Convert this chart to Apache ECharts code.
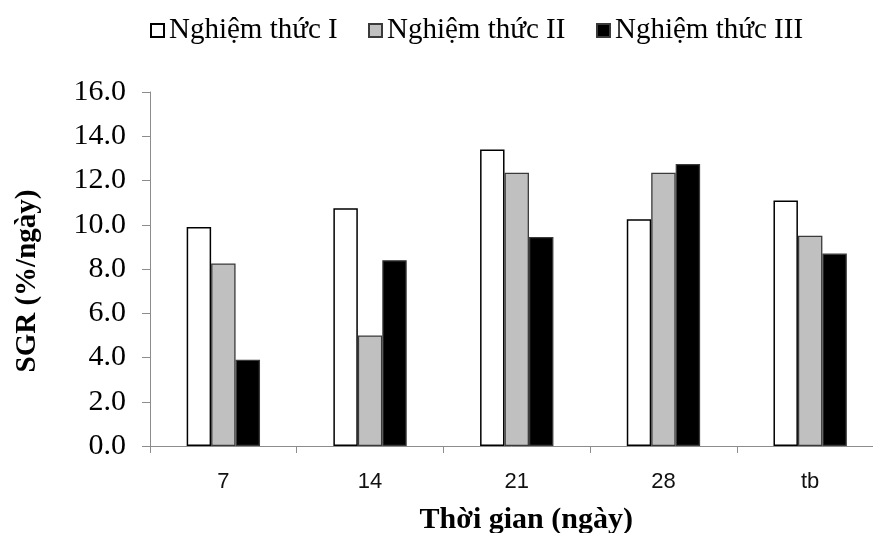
<!DOCTYPE html>
<html>
<head>
<meta charset="utf-8">
<script src="https://cdn.jsdelivr.net/npm/echarts@6/dist/echarts.min.js"></script>
<style>
  html, body { margin: 0; padding: 0; background: #fff; }
  #chart { width: 873px; height: 533px; }
</style>
</head>
<body>
<div id="chart"></div>
<script>
// Sampling days (tb = average over the trial)
const categories = ['7', '14', '21', '28', 'tb'];

// Specific growth rate, %/day, per treatment
const treatment1 = [9.9, 10.75, 13.4, 10.25, 11.1];
const treatment2 = [8.25, 5.0, 12.35, 12.35, 9.5];
const treatment3 = [3.9, 8.4, 9.45, 12.75, 8.7];

const seriesNames = ['Nghiệm thức I', 'Nghiệm thức II', 'Nghiệm thức III'];

const SERIF = '"Liberation Serif", "Times New Roman", serif';
const SANS = '"Liberation Sans", Arial, sans-serif';

const chart = echarts.init(document.getElementById('chart'), null, { renderer: 'canvas' });

function legendAt(name, left) {
  return {
    data: [name],
    left: left,
    top: 16,
    padding: 0,
    itemWidth: 13,
    itemHeight: 13,
    icon: 'rect',
    selectedMode: false,
    textStyle: { fontFamily: SERIF, fontSize: 29, color: '#000' }
  };
}

chart.setOption({
  animation: false,
  backgroundColor: '#fff',
  legend: [
    legendAt(seriesNames[0], 150),
    legendAt(seriesNames[1], 368),
    legendAt(seriesNames[2], 596)
  ],
  grid: {
    left: 150,
    right: -10.5,
    top: 92,
    bottom: 87,
    containLabel: false,
    outerBoundsMode: 'none'
  },
  xAxis: {
    type: 'category',
    data: categories,
    name: 'Thời gian (ngày)',
    nameLocation: 'middle',
    nameGap: 59,
    nameTextStyle: {
      fontFamily: SERIF, fontSize: 30, fontWeight: 'bold', color: '#000',
      padding: [0, 0, 0, 19]
    },
    axisLine: { lineStyle: { color: '#8c8c8c', width: 1 } },
    axisTick: { show: true, length: 7, lineStyle: { color: '#8c8c8c' } },
    axisLabel: { margin: 25, fontFamily: SANS, fontSize: 22, color: '#111' }
  },
  yAxis: {
    type: 'value',
    min: 0,
    max: 16,
    interval: 2,
    name: 'SGR (%/ngày)',
    nameLocation: 'middle',
    nameGap: 108,
    nameRotate: 90,
    nameTextStyle: {
      fontFamily: SERIF, fontSize: 29, fontWeight: 'bold', color: '#000',
      padding: [0, 24, 0, 0]
    },
    splitLine: { show: false },
    axisLine: { show: true, lineStyle: { color: '#8c8c8c', width: 1 } },
    axisTick: { show: true, length: 8, lineStyle: { color: '#8c8c8c' } },
    axisLabel: {
      margin: 24,
      fontFamily: SERIF, fontSize: 30, color: '#000',
      formatter: v => v.toFixed(1)
    }
  },
  series: [
    {
      name: seriesNames[0], type: 'bar', data: treatment1,
      barGap: '0%', barCategoryGap: '50%',
      itemStyle: { color: '#ffffff', borderColor: '#000000', borderWidth: 1.5 }
    },
    {
      name: seriesNames[1], type: 'bar', data: treatment2,
      barGap: '0%', barCategoryGap: '50%',
      itemStyle: { color: '#c0c0c0', borderColor: '#3a3a3a', borderWidth: 1.3 }
    },
    {
      name: seriesNames[2], type: 'bar', data: treatment3,
      barGap: '0%', barCategoryGap: '50%',
      itemStyle: { color: '#000000', borderColor: '#3a3a3a', borderWidth: 1.3 }
    }
  ]
});
</script>
</body>
</html>
